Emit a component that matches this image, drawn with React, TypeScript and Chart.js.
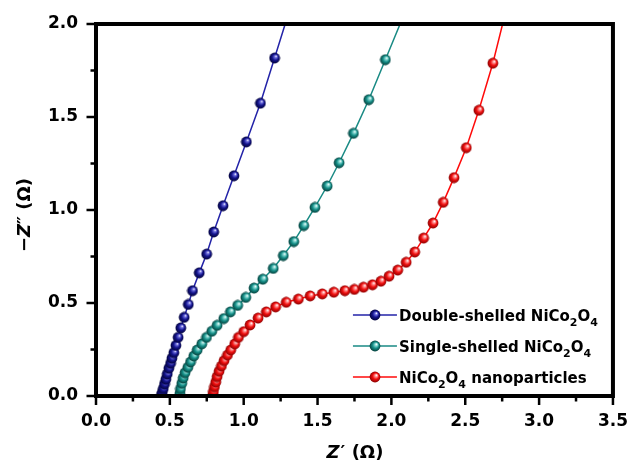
import React, { useEffect, useRef } from 'react';
import { Chart, registerables } from 'chart.js';

Chart.register(...registerables);

// ---------------- data ----------------
const seriesLabels = ['Double-shelled NiCo2O4', 'Single-shelled NiCo2O4', 'NiCo2O4 nanoparticles'];

const xTickLabels = ['0.0', '0.5', '1.0', '1.5', '2.0', '2.5', '3.0', '3.5'];
const yTickLabels = ['0.0', '0.5', '1.0', '1.5', '2.0'];
const xTitle = ['Z', '\u2032 (\u03A9)'];
const yTitle = ['\u2212', 'Z', '\u2033 (\u03A9)'];

// Double-shelled NiCo2O4 (Z', -Z'')
const doubleX = [0.443, 0.448, 0.455, 0.464, 0.473, 0.482, 0.493, 0.505, 0.514, 0.527, 0.541, 0.556, 0.574, 0.597, 0.625, 0.653, 0.699, 0.749, 0.797, 0.860, 0.934, 1.018, 1.113, 1.209, 1.34];
const doubleY = [0.004, 0.018, 0.039, 0.065, 0.090, 0.118, 0.149, 0.176, 0.203, 0.233, 0.272, 0.315, 0.366, 0.423, 0.492, 0.566, 0.662, 0.763, 0.882, 1.023, 1.184, 1.366, 1.574, 1.817, 2.15];

// Single-shelled NiCo2O4
const singleX = [0.568, 0.572, 0.581, 0.590, 0.603, 0.622, 0.640, 0.662, 0.685, 0.716, 0.748, 0.784, 0.820, 0.865, 0.910, 0.959, 1.014, 1.070, 1.129, 1.200, 1.268, 1.339, 1.407, 1.482, 1.565, 1.646, 1.743, 1.847, 1.959, 2.137];
const singleY = [0.014, 0.039, 0.068, 0.097, 0.125, 0.154, 0.183, 0.215, 0.247, 0.280, 0.315, 0.348, 0.380, 0.416, 0.452, 0.487, 0.530, 0.580, 0.628, 0.686, 0.755, 0.830, 0.916, 1.014, 1.129, 1.254, 1.412, 1.593, 1.808, 2.15];

// NiCo2O4 nanoparticles
const nanoX = [0.791, 0.795, 0.802, 0.811, 0.820, 0.833, 0.849, 0.867, 0.890, 0.912, 0.939, 0.964, 1.000, 1.043, 1.097, 1.153, 1.216, 1.288, 1.370, 1.450, 1.532, 1.610, 1.685, 1.749, 1.811, 1.872, 1.929, 1.984, 2.043, 2.100, 2.158, 2.218, 2.282, 2.351, 2.424, 2.507, 2.592, 2.687, 2.80];
const nanoY = [0.007, 0.025, 0.050, 0.075, 0.104, 0.133, 0.161, 0.190, 0.220, 0.247, 0.280, 0.315, 0.346, 0.382, 0.419, 0.452, 0.479, 0.504, 0.521, 0.538, 0.549, 0.558, 0.566, 0.573, 0.585, 0.598, 0.617, 0.644, 0.677, 0.719, 0.774, 0.849, 0.930, 1.041, 1.174, 1.335, 1.536, 1.789, 2.15];

const lineColors = ['#2323a8', '#198a84', '#ff0a0a'];
const sphereColors = [
  { light: '#7070e0', base: '#14148e', dark: '#02023a' },
  { light: '#8fdcd6', base: '#16918a', dark: '#053f3b' },
  { light: '#ff9a9a', base: '#f21010', dark: '#8a0000' },
];

const FONT = "'DejaVu Sans', 'Liberation Sans', sans-serif";

function makeSphere(c: { light: string; base: string; dark: string }) {
  const r = 5.4;
  const size = 12;
  const cv = document.createElement('canvas');
  cv.width = size;
  cv.height = size;
  const g = cv.getContext('2d')!;
  const cx = size / 2;
  const cy = size / 2;
  const grad = g.createRadialGradient(cx + r * 0.3, cy - r * 0.35, 0.2, cx, cy, r);
  grad.addColorStop(0, '#ffffff');
  grad.addColorStop(0.2, c.light);
  grad.addColorStop(0.55, c.base);
  grad.addColorStop(1, c.dark);
  g.fillStyle = grad;
  g.beginPath();
  g.arc(cx, cy, r, 0, Math.PI * 2);
  g.fill();
  return cv;
}

function toPoints(xs: number[], ys: number[]) {
  return xs.map((x, i) => ({ x, y: ys[i] }));
}

function drawFormula(ctx: CanvasRenderingContext2D, text: string, x: number, y: number, size: number) {
  // digits rendered as subscripts
  let cx = x;
  for (const ch of text) {
    if (/[0-9]/.test(ch)) {
      ctx.font = `bold ${Math.round(size * 0.75)}px ${FONT}`;
      ctx.fillText(ch, cx, y + 5);
      cx += ctx.measureText(ch).width;
    } else {
      ctx.font = `bold ${size}px ${FONT}`;
      ctx.fillText(ch, cx, y);
      cx += ctx.measureText(ch).width;
    }
  }
}

export default function App() {
  const ref = useRef<HTMLCanvasElement | null>(null);

  useEffect(() => {
    if (!ref.current) return;
    const spheres = sphereColors.map(makeSphere);
    const series = [
      toPoints(doubleX, doubleY),
      toPoints(singleX, singleY),
      toPoints(nanoX, nanoY),
    ];

    const framePlugin = {
      id: 'frameTicksTitles',
      afterDraw(chart: any) {
        const ctx: CanvasRenderingContext2D = chart.ctx;
        const { left, right, top, bottom } = chart.chartArea;
        const xs = chart.scales.x;
        const ys = chart.scales.y;
        ctx.save();
        ctx.strokeStyle = '#000';
        // ticks
        ctx.lineWidth = 2.5;
        for (let v = 0; v <= 3.5001; v += 0.25) {
          const px = xs.getPixelForValue(v);
          const major = Math.abs(v / 0.5 - Math.round(v / 0.5)) < 1e-6;
          ctx.beginPath();
          ctx.moveTo(px, bottom);
          ctx.lineTo(px, bottom + (major ? 9 : 5.5));
          ctx.stroke();
        }
        for (let v = 0; v <= 2.0001; v += 0.25) {
          const py = ys.getPixelForValue(v);
          const major = Math.abs(v / 0.5 - Math.round(v / 0.5)) < 1e-6;
          ctx.beginPath();
          ctx.moveTo(left, py);
          ctx.lineTo(left - (major ? 9.5 : 5.5), py);
          ctx.stroke();
        }
        // frame
        ctx.lineWidth = 4;
        ctx.strokeRect(left, top, right - left, bottom - top);

        // legend
        const rowY0 = bottom - 81;
        chart.data.datasets.forEach((ds: any, i: number) => {
          const yy = rowY0 + i * 31;
          const x0 = right - 260;
          const x1 = right - 216;
          ctx.strokeStyle = ds.borderColor;
          ctx.lineWidth = 1.5;
          ctx.beginPath();
          ctx.moveTo(x0, yy);
          ctx.lineTo(x1, yy);
          ctx.stroke();
          const img = spheres[i];
          ctx.drawImage(img, (x0 + x1) / 2 - img.width / 2, yy - img.height / 2);
          ctx.fillStyle = '#000';
          ctx.textBaseline = 'alphabetic';
          ctx.textAlign = 'left';
          drawFormula(ctx, ds.label, right - 214, yy + 5.5, 15);
        });

        // axis titles
        ctx.fillStyle = '#000';
        ctx.textBaseline = 'alphabetic';
        ctx.textAlign = 'left';
        const tsize = 18;
        const it = `italic bold ${tsize}px ${FONT}`;
        const bd = `bold ${tsize}px ${FONT}`;
        // x title
        ctx.font = it;
        const wz = ctx.measureText(xTitle[0]).width;
        ctx.font = bd;
        const wr = ctx.measureText(xTitle[1]).width;
        const sx = (left + right) / 2 - (wz + wr) / 2;
        const by = 458;
        ctx.font = it;
        ctx.fillText(xTitle[0], sx, by);
        ctx.font = bd;
        ctx.fillText(xTitle[1], sx + wz + 1, by);
        // y title
        ctx.save();
        ctx.translate(29.5, (top + bottom) / 2 + 5);
        ctx.rotate(-Math.PI / 2);
        const parts = yTitle;
        const fonts = [bd, it, bd];
        const widths = parts.map((p, k) => {
          ctx.font = fonts[k];
          return ctx.measureText(p).width;
        });
        const total = widths.reduce((a, b) => a + b, 0);
        let tx = -total / 2;
        parts.forEach((p, k) => {
          ctx.font = fonts[k];
          ctx.fillText(p, tx, 0);
          tx += widths[k];
        });
        ctx.restore();
        ctx.restore();
      },
    };

    const chart = new Chart(ref.current, {
      type: 'line',
      data: {
        datasets: seriesLabels.map((label, i) => ({
          label,
          data: series[i],
          borderColor: lineColors[i],
          backgroundColor: lineColors[i],
          borderWidth: 1.5,
          pointStyle: (ctx: any) => (ctx.dataIndex === series[i].length - 1 ? false : spheres[i]),
          pointRadius: 5,
          tension: 0,
          fill: false,
        })),
      },
      options: {
        responsive: false,
        animation: false,
        layout: { padding: { left: 0, top: 24, right: 21, bottom: 0 } },
        plugins: {
          legend: { display: false },
          tooltip: { enabled: false },
        },
        scales: {
          x: {
            type: 'linear',
            min: 0,
            max: 3.5,
            grid: { display: false, drawTicks: true, tickLength: 9 },
            border: { display: false },
            ticks: {
              stepSize: 0.5,
              padding: 6,
              color: '#000',
              font: { family: FONT, weight: 'bold', size: 17 },
              callback: (_v: any, idx: number) => xTickLabels[idx],
            },
            afterFit: (s: any) => {
              s.height = 67;
            },
          },
          y: {
            type: 'linear',
            min: 0,
            max: 2,
            grid: { display: false, drawTicks: true, tickLength: 9 },
            border: { display: false },
            ticks: {
              stepSize: 0.5,
              padding: 9,
              color: '#000',
              font: { family: FONT, weight: 'bold', size: 17 },
              callback: (_v: any, idx: number) => yTickLabels[idx],
            },
            afterFit: (s: any) => {
              s.width = 96;
            },
          },
        },
      } as any,
      plugins: [framePlugin],
    });
    return () => chart.destroy();
  }, []);

  return (
    <div style={{ position: 'absolute', left: 0, top: 0, width: 634, height: 463, background: '#fff' }}>
      <canvas ref={ref} width={634} height={463} style={{ display: 'block' }} />
    </div>
  );
}
